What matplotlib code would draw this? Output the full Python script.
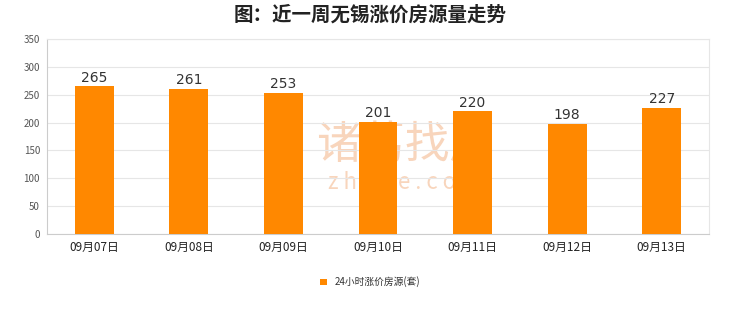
import matplotlib
matplotlib.use("Agg")
import matplotlib.pyplot as plt

plt.rcParams['font.family'] = ['Noto Sans CJK SC', 'DejaVu Sans']

categories = ["09月07日", "09月08日", "09月09日", "09月10日", "09月11日", "09月12日", "09月13日"]
values = [265, 261, 253, 201, 220, 198, 227]
series_name = "24小时涨价房源(套)"
title = "图：近一周无锡涨价房源量走势"
yticks = [0, 50, 100, 150, 200, 250, 300, 350]

fig = plt.figure(figsize=(7.4, 3.12), dpi=100)
ax = fig.add_axes([47/740, 1-234/312, (709-47)/740, (234-39)/312])

x = list(range(len(categories)))
bars = ax.bar(x, values, width=0.41, color="#FF8800", label=series_name, zorder=3)
for xi, v in zip(x, values):
    ax.text(xi, v + 3, str(v), ha="center", va="bottom", fontsize=10, color="#333333",
            family=['DejaVu Sans'], zorder=4)

ax.set_xlim(-0.5, len(categories) - 0.5)
ax.set_ylim(0, 350)
ax.set_yticks(yticks)
ax.set_yticklabels([str(t) for t in yticks], fontsize=7, color="#555555")
ax.set_xticks(x)
ax.set_xticklabels(categories, fontsize=8.5, color="#222222")
ax.tick_params(axis="both", length=0, pad=5)
ax.grid(axis="y", color="#e6e6e6", linewidth=0.8, zorder=0)
for s in ["top", "right"]:
    ax.spines[s].set_color("#e6e6e6")
    ax.spines[s].set_linewidth(0.8)
for s in ["left", "bottom"]:
    ax.spines[s].set_color("#cccccc")
    ax.spines[s].set_linewidth(0.8)

# watermark (behind bars)
ax.text(405/740, 1 - 145/312, "诸葛找房", transform=fig.transFigure, ha="center", va="center",
        fontsize=32, color="#F8D5BC", zorder=1)
ax.text(405/740, 1 - 182/312, "z h u g e . c o m", transform=fig.transFigure, ha="center", va="center",
        fontsize=16, color="#F8D5BC", zorder=1)

fig.suptitle(title, x=0.5, y=0.985, fontsize=14, fontweight="bold", color="#222222")

leg = fig.legend(handles=[bars], labels=[series_name], loc="center", bbox_to_anchor=(0.5, 1 - 282/312),
                 frameon=False, fontsize=7, handlelength=0.7, handleheight=0.7, handletextpad=0.8)
for t in leg.get_texts():
    t.set_color("#333333")

fig.savefig("out.png", dpi=100, facecolor="white")
